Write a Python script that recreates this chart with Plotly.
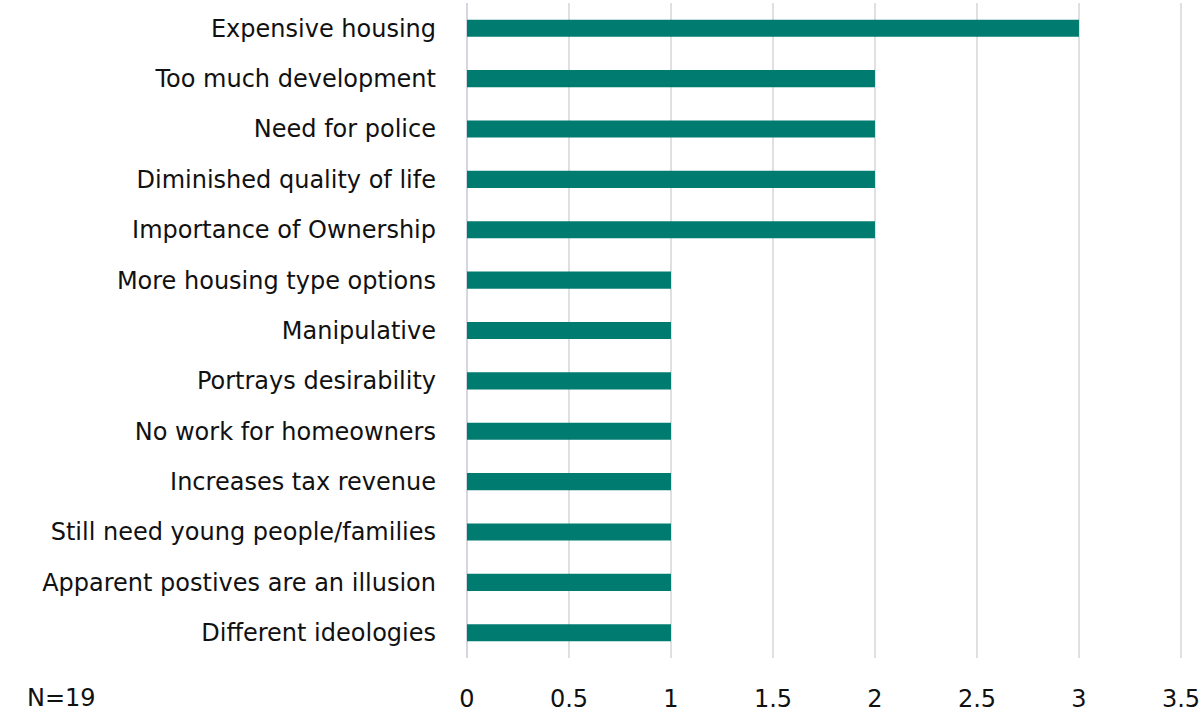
import plotly.graph_objects as go

categories = [
    "Expensive housing",
    "Too much development",
    "Need for police",
    "Diminished quality of life",
    "Importance of Ownership",
    "More housing type options",
    "Manipulative",
    "Portrays desirability",
    "No work for homeowners",
    "Increases tax revenue",
    "Still need young people/families",
    "Apparent postives are an illusion",
    "Different ideologies",
]
values = [3, 2, 2, 2, 2, 1, 1, 1, 1, 1, 1, 1, 1]
tick_vals = [0, 0.5, 1, 1.5, 2, 2.5, 3, 3.5]
tick_text = ["0", "0.5", "1", "1.5", "2", "2.5", "3", "3.5"]
note = "N=19"

FONT = "DejaVu Sans"
FS = 24

fig = go.Figure(
    go.Bar(
        x=values,
        y=categories,
        orientation="h",
        marker=dict(color="#007B70", line=dict(width=0)),
        width=0.34,
    )
)

fig.update_layout(
    width=1200,
    height=715,
    margin=dict(l=467, r=17, t=3, b=57, autoexpand=False),
    paper_bgcolor="white",
    plot_bgcolor="white",
    font=dict(family=FONT, size=FS, color="#111111"),
    showlegend=False,
)

fig.update_xaxes(
    range=[0, 3.51],
    tickvals=tick_vals,
    ticktext=tick_text,
    showgrid=True,
    gridcolor="#e0e0e0",
    gridwidth=1.5,
    zeroline=True,
    zerolinecolor="#d6d6e0",
    zerolinewidth=2,
    showline=False,
    ticks="",
    automargin=False,
    ticklabelstandoff=24,
    ticklabeloverflow="allow",
    tickfont=dict(family=FONT, size=FS, color="#111111"),
)

fig.update_yaxes(
    categoryorder="array",
    categoryarray=categories[::-1],
    range=[-0.5, len(categories) - 0.5],
    showgrid=False,
    showline=False,
    ticks="",
    automargin=False,
    ticklabelstandoff=30,
    tickfont=dict(family=FONT, size=FS, color="#111111"),
)

fig.add_annotation(
    text=note,
    xref="paper",
    yref="paper",
    x=(25 - 467) / (1200 - 467 - 17),
    y=-40 / (715 - 3 - 57),
    xanchor="left",
    yanchor="middle",
    showarrow=False,
    font=dict(family=FONT, size=FS, color="#111111"),
)

fig.write_html(
    "out.html",
    config={"displayModeBar": False},
    post_script="document.body.style.margin='0';document.body.style.overflow='hidden';",
)
